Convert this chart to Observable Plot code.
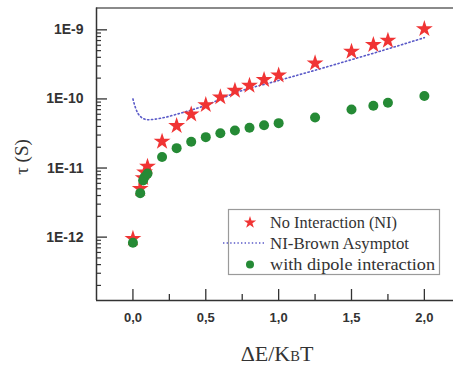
<!DOCTYPE html>
<html><head><meta charset="utf-8">
<script src="https://cdn.jsdelivr.net/npm/d3@7"></script>
<script src="https://cdn.jsdelivr.net/npm/@observablehq/plot@0.6"></script>
<style>body{margin:0;background:#fff}</style>
</head><body><div id="chart"></div>
<script>
// No interaction (NI) – red stars
const xNI = [0, 0.05, 0.07, 0.08, 0.1, 0.2, 0.3, 0.4, 0.5, 0.6, 0.7, 0.8, 0.9, 1.0, 1.25, 1.5, 1.65, 1.75, 2.0];
const tauNI = [9.5e-13, 5.0e-12, 7.2e-12, 8.7e-12, 1.05e-11, 2.42e-11, 4.08e-11, 6.0e-11, 8.2e-11, 1.06e-10, 1.32e-10, 1.56e-10, 1.89e-10, 2.2e-10, 3.29e-10, 4.85e-10, 6.07e-10, 7.0e-10, 1.03e-9];
// with dipole interaction – green dots
const xDip = [0, 0.05, 0.07, 0.08, 0.1, 0.2, 0.3, 0.4, 0.5, 0.6, 0.7, 0.8, 0.9, 1.0, 1.25, 1.5, 1.65, 1.75, 2.0];
const tauDip = [8.3e-13, 4.33e-12, 6.6e-12, 7.4e-12, 8.3e-12, 1.44e-11, 1.94e-11, 2.4e-11, 2.8e-11, 3.19e-11, 3.49e-11, 3.82e-11, 4.17e-11, 4.46e-11, 5.38e-11, 7.03e-11, 7.95e-11, 8.79e-11, 1.1e-10];
// NI-Brown asymptote – dotted blue line
const xBrown = [0.0, 0.02, 0.05, 0.1, 0.2, 0.3, 0.5, 0.7, 1.0, 1.25, 1.5, 1.75, 2.0];
const tauBrown = [1.0e-10, 7.2e-11, 5.6e-11, 5.0e-11, 5.3e-11, 6.0e-11, 8.1e-11, 1.22e-10, 1.85e-10, 2.6e-10, 3.7e-10, 5.3e-10, 7.7e-10];

const xTicks = [0, 0.5, 1, 1.5, 2];
const xTickLabels = ["0,0", "0,5", "1,0", "1,5", "2,0"];
const xMinor = [0.25, 0.75, 1.25, 1.75];
const yTicks = [1e-12, 1e-11, 1e-10, 1e-9];
const yTickLabels = ["1E-12", "1E-11", "1E-10", "1E-9"];
const legendLabels = ["No Interaction (NI)", "NI-Brown Asymptot", "with dipole interaction"];
const xLabel = ["ΔE/K", "B", "T"];
const yLabel = "τ (S)";

const colRed = "#f03434", colGreen = "#258a35", colBlue = "#5a5ac8";
const xDomain = [-0.25, 2.2], yDomain = [1.21e-13, 2.07e-9];

const yMinor = [];
for (let k = -13; k <= -10; k++) for (let m = 2; m <= 9; m++) {
  const v = m * Math.pow(10, k);
  if (v > yDomain[0] && v < 1e-9) yMinor.push(v);
}

const ni = xNI.map((x, i) => ({x, y: tauNI[i]}));
const dip = xDip.map((x, i) => ({x, y: tauDip[i]}));
const brown = xBrown.map((x, i) => ({x, y: tauBrown[i]}));

const tickFont = "Liberation Sans, Arial, Helvetica, sans-serif";
const serif = "Liberation Serif, Times New Roman, serif";
const xFmt = d => xTickLabels[xTicks.findIndex(t => Math.abs(t - d) < 1e-9)];
const yFmt = d => yTickLabels[yTicks.findIndex(t => Math.abs(Math.log10(t) - Math.log10(d)) < 1e-6)];

const plot = Plot.plot({
  width: 453, height: 365,
  marginLeft: 96, marginRight: 0, marginTop: 7.5, marginBottom: 65,
  x: {domain: xDomain, label: null},
  y: {type: "log", domain: yDomain, label: null},
  style: {background: "#fff"},
  marks: [
    Plot.axisX(xTicks, {tickSize: -11, tickFormat: () => "", stroke: "#333", strokeWidth: 1.3, label: null}),
    Plot.axisX(xMinor, {tickSize: -6, tickFormat: () => "", stroke: "#333", strokeWidth: 1.3, label: null}),
    Plot.axisX(xTicks, {tickSize: 0, tickPadding: 12, tickFormat: xFmt, fontSize: 13, fontWeight: "bold", fill: "#333", fontFamily: tickFont, label: null}),
    Plot.axisY(yTicks, {tickSize: -11, tickFormat: () => "", stroke: "#333", strokeWidth: 1.3, label: null}),
    Plot.axisY(yMinor, {tickSize: -5, tickFormat: () => "", stroke: "#333", strokeWidth: 1.2, label: null}),
    Plot.axisY(yTicks, {tickSize: 0, tickPadding: 13, tickFormat: yFmt, fontSize: 14, fontWeight: "bold", fill: "#333", fontFamily: tickFont, label: null}),
    Plot.ruleY([yDomain[1]], {stroke: "#8a8a8a", strokeWidth: 2}),
    Plot.ruleY([yDomain[0]], {stroke: "#333", strokeWidth: 1.5}),
    Plot.ruleX([xDomain[0]], {stroke: "#333", strokeWidth: 1.5}),
    Plot.line(brown, {x: "x", y: "y", stroke: colBlue, strokeWidth: 1.6, strokeDasharray: "1.3,2.6", curve: "monotone-x"}),
    Plot.dot(ni, {x: "x", y: "y", symbol: "star", r: 5.3, fill: colRed, stroke: "none"}),
    Plot.dot(dip, {x: "x", y: "y", symbol: "circle", r: 5, fill: colGreen, stroke: "none"})
  ]
});
document.getElementById("chart").appendChild(plot);

const svg = d3.select(plot);
// axis titles
const xt = svg.append("text").attr("x", 277).attr("y", 361).attr("text-anchor", "middle")
  .attr("font-family", serif).attr("font-size", 22).attr("fill", "#333");
xt.append("tspan").text(xLabel[0]);
xt.append("tspan").attr("font-size", 14.5).text(xLabel[1]);
xt.append("tspan").text(xLabel[2]);
svg.append("text").attr("transform", "translate(28,157) rotate(-90)").attr("text-anchor", "middle")
  .attr("font-family", serif).attr("font-size", 19).attr("fill", "#333").text(yLabel);

// legend
const lg = svg.append("g");
lg.append("rect").attr("x", 228.5).attr("y", 209.5).attr("width", 211).attr("height", 65)
  .attr("fill", "#fff").attr("stroke", "#9a9a9a").attr("stroke-width", 1.2);
const rowY = [222.5, 243, 264.5];
const textLen = [127, 139, 165];
lg.append("path").attr("d", d3.symbol(d3.symbolStar, 48)()).attr("transform", `translate(250,${rowY[0]})`).attr("fill", colRed);
lg.append("line").attr("x1", 223).attr("x2", 265).attr("y1", rowY[1]).attr("y2", rowY[1])
  .attr("stroke", colBlue).attr("stroke-width", 1.4).attr("stroke-dasharray", "1.4,2.2");
lg.append("circle").attr("cx", 250).attr("cy", rowY[2]).attr("r", 4).attr("fill", colGreen);
legendLabels.forEach((t, i) => {
  lg.append("text").attr("x", 270).attr("y", rowY[i]).attr("dy", "0.35em").attr("text-anchor", "start")
    .attr("font-family", serif).attr("font-size", 17).attr("fill", "#333")
    .attr("textLength", textLen[i]).attr("lengthAdjust", "spacingAndGlyphs").text(t);
});
</script>
</body></html>
